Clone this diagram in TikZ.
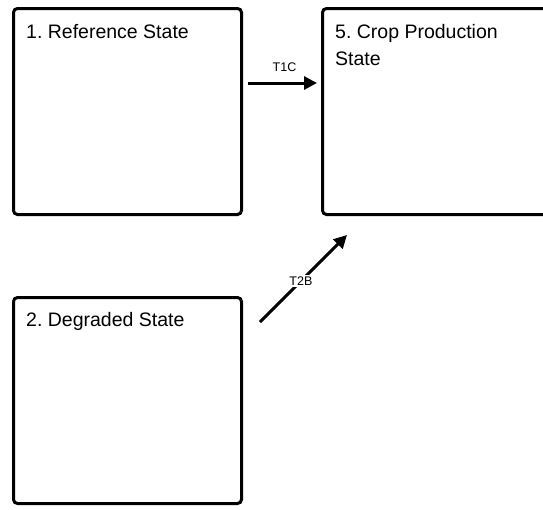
\documentclass[tikz,border=0pt]{standalone}
\usepackage{fontspec}
\setmainfont{Liberation Sans}
\usetikzlibrary{arrows.meta,positioning}
\frenchspacing

\tikzset{
  statebox/.style={draw, line width=3pt, rounded corners=4pt, minimum width=228pt, minimum height=206pt, inner sep=0pt, outer sep=0pt},
  statetext/.style={font=\fontsize{19.5}{27}\selectfont, inner sep=0pt, align=left, anchor=north west},
  trans/.style={line width=3pt, -{Triangle[length=13pt,width=13pt]}},
  translbl/.style={font=\fontsize{12.5}{14}\selectfont, inner sep=1.5pt}
}

\begin{document}
\begin{tikzpicture}[x=1pt,y=-1pt]
\useasboundingbox (0,0) rectangle (543,509);
\clip (0,0) rectangle (543,509);

%State boxes
\node[statebox] (ref) at (127.5,111.5) {};
\node[statebox] (crop) at (436.5,111.5) {};
\node[statebox] (deg) at (127.5,400.5) {};

% Text Node
\node[statetext, below right=16pt and 12.5pt of ref.north west] (reftxt) {1. Reference State};
% Text Node
\node[statetext, below right=16pt and 12.5pt of crop.north west] (croptxt) {5. Crop Production\\State};
% Text Node
\node[statetext, below right=15pt and 12.5pt of deg.north west] (degtxt) {2. Degraded State};

%Transitions
\draw[trans, shorten <=6.5pt, shorten >=5.5pt] ([yshift=28.5pt]ref.east) -- node[translbl, above=8pt, xshift=2.5pt] (t1c) {T1C} ([yshift=28.5pt]crop.west);
\draw[trans] ([shift={(18.5pt,-24.5pt)}]deg.north east) -- node[translbl, fill=white, pos=0.47] (t2b) {T2B} ([shift={(24.5pt,-20.5pt)}]crop.south west);
\end{tikzpicture}
\end{document}
